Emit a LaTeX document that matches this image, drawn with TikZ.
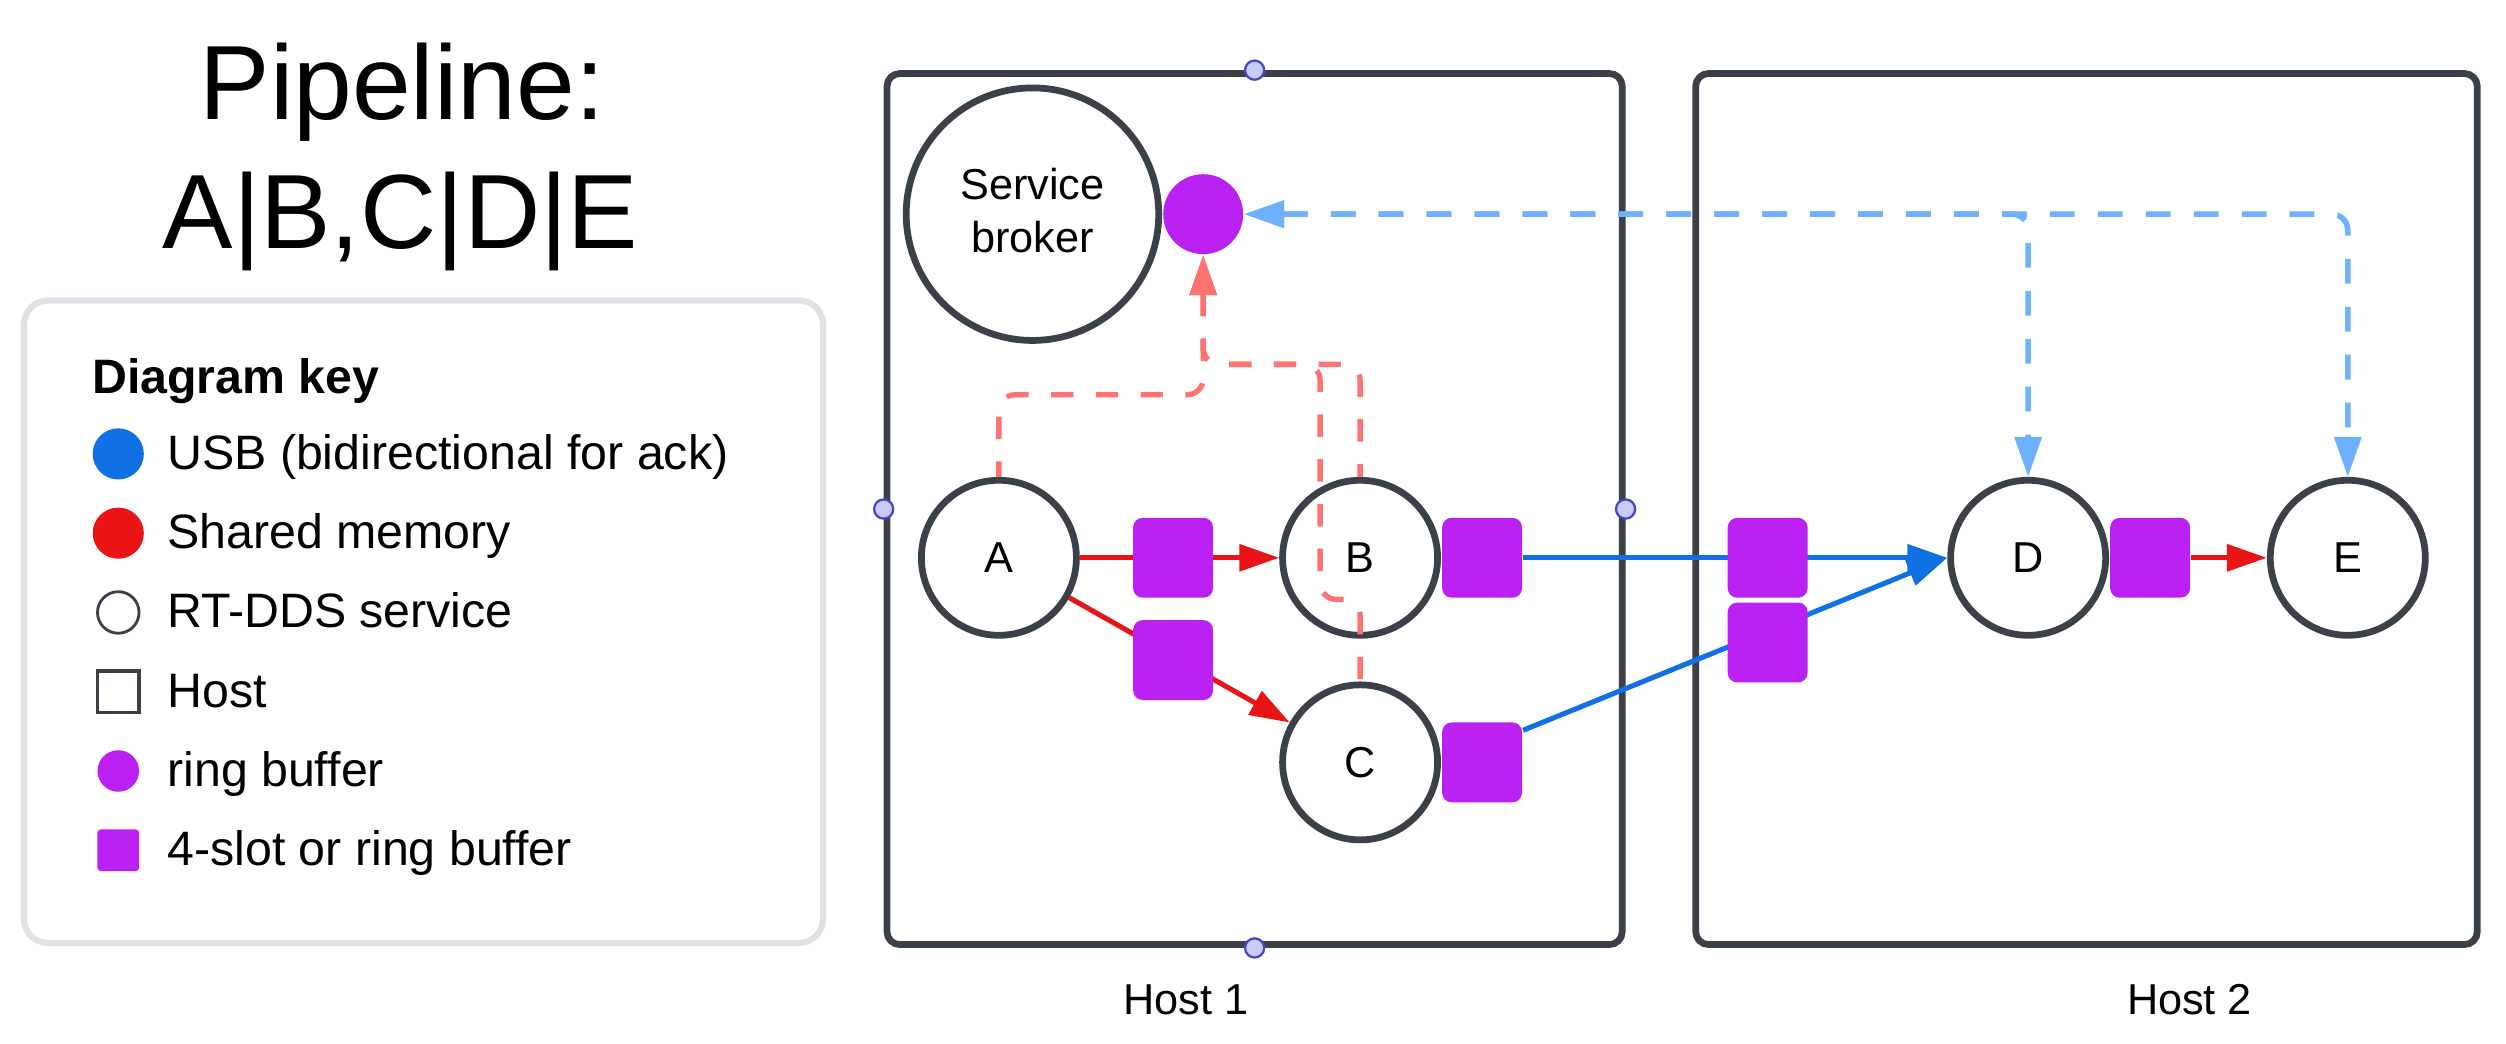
\documentclass[tikz,border=0pt]{standalone}
\usepackage{fontspec}
\setmainfont{Liberation Sans}
\usepackage{tikz}
\usetikzlibrary{positioning}
\usetikzlibrary{arrows.meta,backgrounds,positioning,shapes.geometric}
\pgfdeclarelayer{edgelayer}
\pgfdeclarelayer{nodelayer}
\pgfsetlayers{nodelayer,edgelayer,main}
\definecolor{Slate}{HTML}{3B4149}
\definecolor{Grape}{HTML}{BA21F2}
\definecolor{Scarlet}{HTML}{E81416}
\definecolor{Azure}{HTML}{1071E5}
\definecolor{Sky}{HTML}{6DB1FF}
\definecolor{Salmon}{HTML}{FF7373}
\definecolor{Lilac}{HTML}{C9CBF9}
\definecolor{Indigo}{HTML}{4448C8}
\definecolor{Mist}{HTML}{DFE1E6}
\tikzstyle{svc}=[circle,draw=Slate,fill=white,line width=1.2pt,minimum size=0.97cm,
    inner sep=0pt,font=\fontsize{7.7}{9.5}\selectfont]
\tikzstyle{buf}=[rectangle,fill=Grape,rounded corners=0.06cm,minimum size=0.5cm,inner sep=0pt]
\tikzstyle{rb}=[circle,fill=Grape,minimum size=0.5cm,inner sep=0pt]
\tikzstyle{host} = [rectangle, draw=Slate, line width=1.2pt, rounded corners=0.08cm,
    minimum width=4.6cm, minimum height=5.45cm]
\tikzstyle{hdl}=[circle,fill=Lilac,draw=Indigo,line width=0.4pt,minimum size=0.12cm,inner sep=0pt]
\tikzstyle{usb}=[Azure,line width=0.9pt]
\tikzstyle{shm}=[Scarlet,line width=0.9pt]
\tikzstyle{ctl}=[Salmon,line width=0.95pt,dash pattern=on 0.14cm off 0.14cm,rounded corners=0.1cm]
\tikzstyle{ack}=[Sky,line width=1pt,dash pattern=on 0.155cm off 0.145cm,rounded corners=0.1cm]
\tikzstyle{keybox} = [rectangle, draw=Mist, line width=1.1pt, rounded corners=0.15cm,
    minimum width=5cm, minimum height=4.02cm]
\tikzstyle{keytext}=[inner sep=0pt,anchor=west,text height=0.25cm,text depth=0.056cm,
    font=\fontsize{8.6}{10}\selectfont]
\tikzstyle{lbl}=[inner sep=0pt,anchor=base,font=\fontsize{7.7}{9.5}\selectfont]
\tikzstyle{ttl}=[inner sep=0pt,anchor=base,font=\fontsize{18.8}{22.8}\selectfont]

\begin{document}
\begin{tikzpicture}[->,>={Triangle[length=0.25cm,width=0.165cm]},auto,node distance=2.26cm]
  \useasboundingbox (0,0) rectangle (15.68,-6.532);

  \begin{pgfonlayer}{nodelayer}
  \node[host] (host1) at (7.85,-3.185) {};
  \node[host, minimum width=4.89cm] (host2) at (13.055,-3.185) {};
  \node[keybox] (key) at (2.65,-3.89) {};
  \node[svc]   (A) at (6.25,-3.49) {A};
  \node[svc, right of=A] (B) {B};
  \node[svc, below of=B, yshift=0.98cm] (C) {C};
  \node[svc, right of=B, xshift=1.92cm] (D) {D};
  \node[svc, right of=D, xshift=-0.26cm] (E) {E};
  \node[svc, minimum size=1.58cm, align=center, text depth=0.05cm] (broker) at (6.46,-1.34) {Service\\broker};
  \end{pgfonlayer}

  \node[rb, right=0pt of broker] (ring) {};
  \node[buf, right=0pt of B] (Bbuf) {};
  \node[buf, right=0pt of C] (Cbuf) {};
  \node[buf, right=0pt of D] (Dbuf) {};
  \node[buf] (ABbuf) at (7.34,-3.49) {};
  \node[buf] (ACbuf) at (7.34,-4.13) {};
  \node[buf] (Hbuf1) at (11.06,-3.49) {};
  \node[buf] (Hbuf2) at (11.06,-4.02) {};

  \coordinate (aknee) at ([yshift=-0.873cm]ring.south);
  \coordinate (bknee) at ([yshift=-0.683cm]ring.south);
  \coordinate (cjog) at (8.26,-3.75);

  \begin{pgfonlayer}{edgelayer}
  \path (A) edge[shm] (B)
        (A) edge[shm] (C)
        (Dbuf) edge[shm] (E)
        (Bbuf) edge[usb] (D)
        (Cbuf.38) edge[usb] (D.west);
  \draw[ctl,<-] (ring.south) -- (aknee) -| (A.north);
  \draw[ctl,<-] (ring.south) -- (bknee) -| (B.north);
  \draw[ctl,<-] (ring.south) -- (bknee) -| (cjog) -| (C.north);
  \draw[ack,<->] (ring.east) -| (D.north);
  \draw[ack,<->] (ring.east) -| (E.north);
  \end{pgfonlayer}

  \node[hdl] (h1n) at (host1.north) {};
  \node[hdl] (h1w) at (host1.west) {};
  \node[hdl] (h1e) at (host1.east) {};
  \node[hdl] (h1s) at (host1.south) {};

  \node[lbl] (h1lbl) at (7.42,-6.345) {Host 1};
  \node[lbl] (h2lbl) at (13.70,-6.345) {Host 2};

  \node[ttl] (ttl1) at (2.516,-0.75) {Pipeline:};
  \node[ttl] (ttl2) at (2.505,-1.555) {A|B,C|D|E};

  \node[inner sep=0pt, anchor=base west, font=\bfseries\fontsize{8.6}{10}\selectfont]
      (keyhead) at (0.57,-2.462) {Diagram key};
  \node[circle, fill=Azure, minimum size=0.32cm, inner sep=0pt] (kusb) at (0.74,-2.84) {};
  \node[circle, fill=Scarlet, minimum size=0.32cm, inner sep=0pt] (kshm) at (0.74,-3.336) {};
  \node[circle, draw=Slate, line width=0.5pt, minimum size=0.26cm, inner sep=0pt] (ksvc) at (0.74,-3.832) {};
  \node[rectangle, draw=Slate, line width=0.6pt, minimum size=0.26cm, inner sep=0pt] (khost) at (0.74,-4.328) {};
  \node[circle, fill=Grape, minimum size=0.26cm, inner sep=0pt] (kring) at (0.74,-4.824) {};
  \node[rectangle, fill=Grape, rounded corners=0.02cm, minimum size=0.26cm, inner sep=0pt] (kslot) at (0.74,-5.32) {};
  \node[keytext, right=0.30cm of kusb.center] (tusb) {USB (bidirectional for ack)};
  \node[keytext, right=0.30cm of kshm.center] (tshm) {Shared memory};
  \node[keytext, right=0.30cm of ksvc.center] (tsvc) {RT-DDS service};
  \node[keytext, right=0.30cm of khost.center] (thost) {Host};
  \node[keytext, right=0.30cm of kring.center] (tring) {ring buffer};
  \node[keytext, right=0.30cm of kslot.center] (tslot) {4-slot or ring buffer};
\end{tikzpicture}
\end{document}
